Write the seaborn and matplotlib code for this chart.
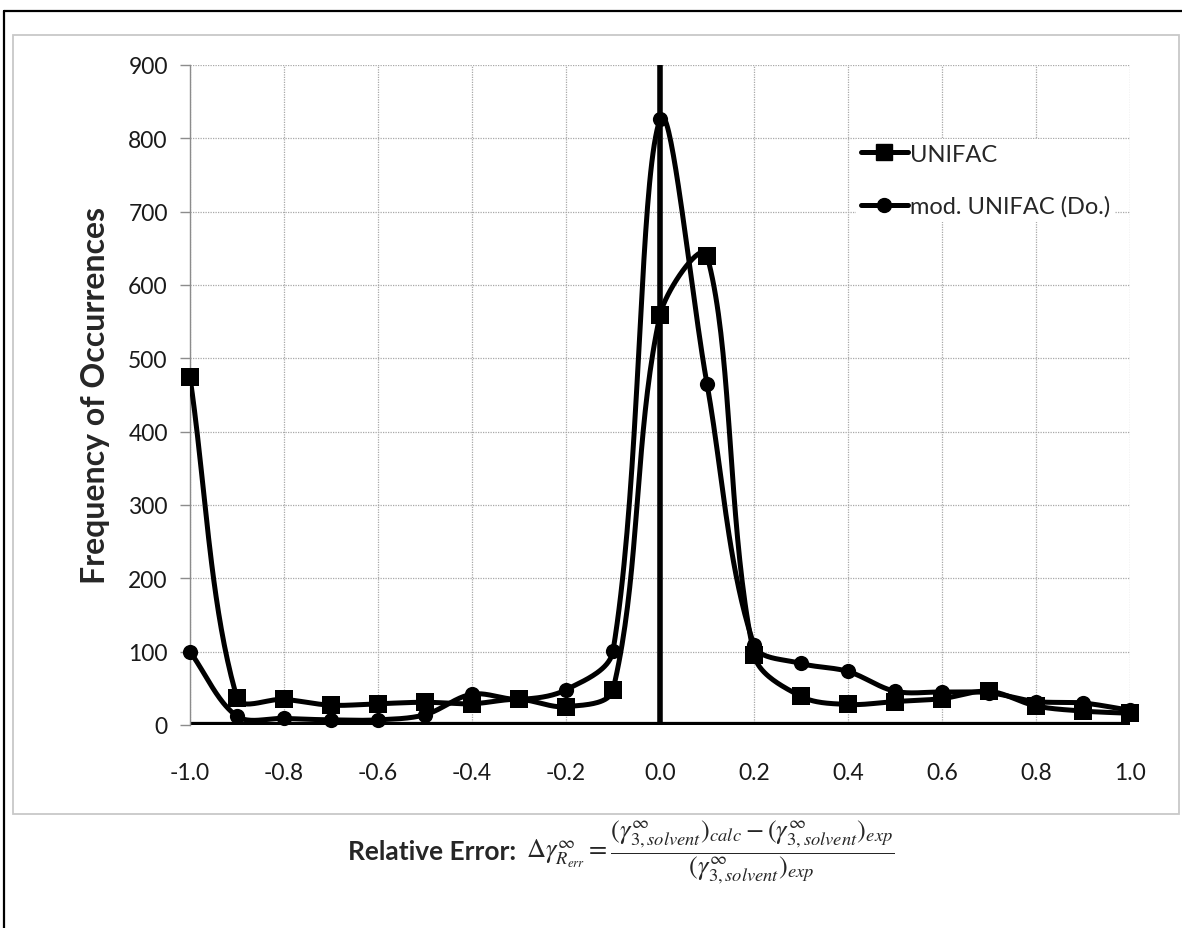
import numpy as np
import matplotlib
matplotlib.use("Agg")
import matplotlib.pyplot as plt
import seaborn as sns
import pandas as pd
from matplotlib.lines import Line2D
from matplotlib.patches import Rectangle

# ---------------- data ----------------
rel_error = [-1.0, -0.9, -0.8, -0.7, -0.6, -0.5, -0.4, -0.3, -0.2, -0.1, 0.0,
             0.1, 0.2, 0.3, 0.4, 0.5, 0.6, 0.7, 0.8, 0.9, 1.0]
unifac = [474, 37, 35, 27, 29, 31, 29, 35, 25, 48, 559,
          640, 96, 39, 28, 32, 36, 46, 26, 19, 16]
mod_unifac = [100, 12, 9, 7, 7, 14, 42, 35, 48, 101, 826,
              465, 109, 84, 73, 46, 45, 44, 32, 30, 20]
series_names = ["UNIFAC", "mod. UNIFAC (Do.)"]
x_ticks = [-1.0, -0.8, -0.6, -0.4, -0.2, 0.0, 0.2, 0.4, 0.6, 0.8, 1.0]
y_ticks = [0, 100, 200, 300, 400, 500, 600, 700, 800, 900]
y_label = "Frequency of Occurrences"

# ---------------- style ----------------
sns.set_theme(style="white")
plt.rcParams['font.family'] = ['Lato', 'DejaVu Sans']
plt.rcParams['mathtext.fontset'] = 'stix'

W, H = 1182, 929
fig = plt.figure(figsize=(W / 100, H / 100), dpi=100)
fig.patch.set_facecolor("white")
ax_l, ax_r, ax_t, ax_b = 190, 1130, 66, 726
ax = fig.add_axes([ax_l / W, 1 - ax_b / H, (ax_r - ax_l) / W, (ax_b - ax_t) / H])

x_min, x_max = x_ticks[0], x_ticks[-1]
y_min, y_max = y_ticks[0], y_ticks[-1]
# pixel scale (for smoothing in screen space, like spreadsheet smoothed lines)
sx = (ax_r - ax_l) / (x_max - x_min)
sy = (ax_b - ax_t) / (y_max - y_min)


def smooth(xs, ys, n=40):
    P = np.column_stack([np.asarray(xs, float) * sx, np.asarray(ys, float) * sy])
    m = len(P)
    out = []
    for i in range(m - 1):
        p0 = P[max(i - 1, 0)]
        p1 = P[i]
        p2 = P[i + 1]
        p3 = P[min(i + 2, m - 1)]
        d01 = np.linalg.norm(p1 - p0)
        d12 = np.linalg.norm(p2 - p1)
        d23 = np.linalg.norm(p3 - p2)
        t1 = (p2 - p0) / 3 * (d12 / (d01 + d12))
        t2 = (p3 - p1) / 3 * (d12 / (d12 + d23))
        b1 = p1 + t1
        b2 = p2 - t2
        t = np.linspace(0, 1, n)[:, None]
        seg = (1 - t) ** 3 * p1 + 3 * (1 - t) ** 2 * t * b1 + 3 * (1 - t) * t ** 2 * b2 + t ** 3 * p2
        out.append(seg if i == 0 else seg[1:])
    c = np.vstack(out)
    return c[:, 0] / sx, c[:, 1] / sy


# reference axes lines
ax.axhline(0, color="black", lw=4.5, zorder=2)
ax.axvline(0, color="black", lw=4.0, zorder=2)

for vals, mk, ms in [(unifac, "s", 150), (mod_unifac, "o", 120)]:
    cx, cy = smooth(rel_error, vals)
    sns.lineplot(x=cx, y=cy, sort=False, estimator=None, color="black", lw=3.6,
                 ax=ax, legend=False, zorder=3)
    sns.scatterplot(x=rel_error, y=vals, marker=mk, s=ms, color="black",
                    edgecolor="black", linewidth=0, ax=ax, legend=False, zorder=4,
                    clip_on=False)

ax.set_xlim(x_min, x_max)
ax.set_ylim(y_min, y_max)
ax.set_xticks(x_ticks)
ax.set_xticklabels([f"{v:.1f}" for v in x_ticks])
ax.set_yticks(y_ticks)
ax.set_yticklabels([str(v) for v in y_ticks])
ax.grid(True, color="#a8a8a8", linestyle=(0, (1, 1)), lw=0.9)
ax.set_axisbelow(True)
for s in ["top", "right", "bottom"]:
    ax.spines[s].set_visible(False)
ax.spines["left"].set_color("#8c8c8c")
ax.spines["left"].set_linewidth(1.0)
ax.tick_params(axis="y", left=True, length=7, width=1, color="#8c8c8c", pad=9,
               labelsize=16.5, labelcolor="#1a1a1a")
ax.tick_params(axis="x", bottom=False, length=0, pad=27, labelsize=16.5, labelcolor="#1a1a1a")

ax.set_ylabel(y_label, fontsize=23, fontweight="bold", ha="center", va="center")
ax.yaxis.set_label_coords((96 - ax_l) / (ax_r - ax_l), 0.5)
ax.set_xlabel("")

handles = [Line2D([0], [0], color="black", lw=3.6, marker="s", markersize=11),
           Line2D([0], [0], color="black", lw=3.6, marker="o", markersize=10)]
leg = ax.legend(handles, series_names, loc="upper left",
                bbox_to_anchor=((856 - ax_l) / (ax_r - ax_l), (ax_b - 140) / (ax_b - ax_t)),
                frameon=True, fontsize=17, handlelength=2.0, handletextpad=0.1,
                labelspacing=1.3, borderpad=0.2, borderaxespad=0)
leg.get_frame().set_facecolor("white")
leg.get_frame().set_edgecolor("none")
leg.get_frame().set_alpha(1.0)
leg.get_frame().set_boxstyle("square", pad=0)

# chart-area border and outer frame
fig.patches.append(Rectangle((13 / W, 1 - 815 / H), (1179 - 13) / W, (815 - 36) / H,
                             transform=fig.transFigure, fill=False,
                             edgecolor="#c8c8c8", lw=1.3))
fig.lines.append(Line2D([4 / W, 4 / W], [0, 1 - 12 / H], transform=fig.transFigure,
                        color="black", lw=1.6))
fig.lines.append(Line2D([4 / W, 1], [1 - 12 / H, 1 - 12 / H], transform=fig.transFigure,
                        color="black", lw=1.6))

# x-axis label with formula
fig.text(516 / W, 1 - 852 / H, "Relative Error:", ha="right", va="center",
         fontsize=19, fontweight="bold")
formula = (r"$\Delta\gamma^{\infty}_{R_{err}} = "
           r"\dfrac{(\gamma^{\infty}_{3,solvent})_{calc} - (\gamma^{\infty}_{3,solvent})_{exp}}"
           r"{(\gamma^{\infty}_{3,solvent})_{exp}}$")
fig.text(526 / W, 1 - 852 / H, formula, ha="left", va="center", fontsize=19)

fig.savefig("out.png", dpi=100, facecolor="white")
